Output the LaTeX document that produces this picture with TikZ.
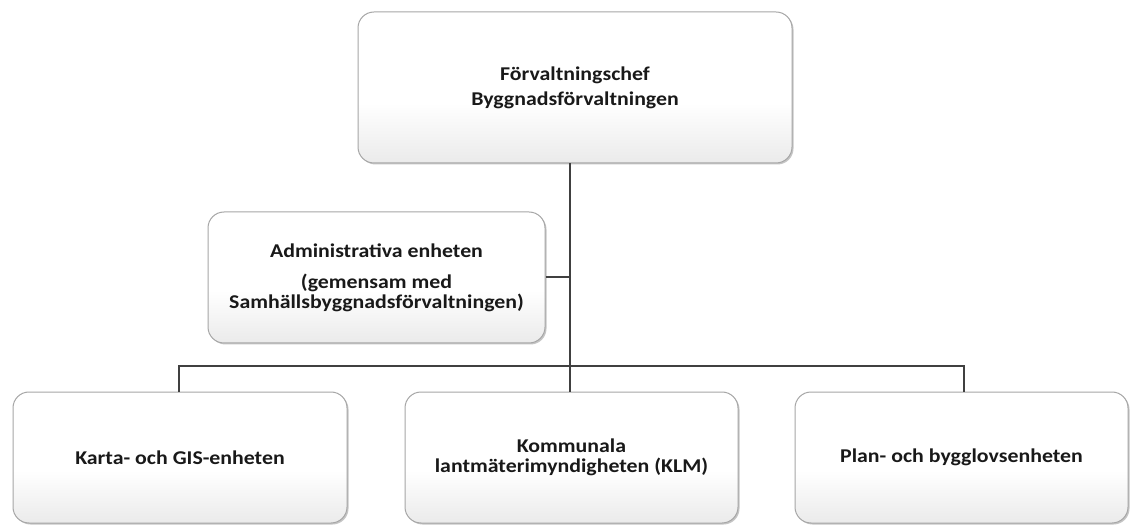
\documentclass[tikz,border=0pt]{standalone}
\usepackage{fontspec}
\setmainfont{Carlito}[FakeStretch=1.12]
\usetikzlibrary{shadows}
\pgfdeclareverticalshading{boxshade}{100bp}{color(0bp)=(black!22); color(25bp)=(black!8); color(45bp)=(white); color(100bp)=(white)}
\tikzset{
  unit/.style={draw=black!35, line width=1pt, rounded corners=16pt, shading=boxshade,
    drop shadow={shadow xshift=1.5pt, shadow yshift=-1.5pt, fill=black!45, opacity=0.5},
    align=center, font=\bfseries\fontsize{19.5}{20}\selectfont, inner sep=0pt, text=black!90},
  conn/.style={draw=black!75, line width=2pt}
}
\begin{document}
\begin{tikzpicture}[x=1pt,y=-1pt]
\useasboundingbox[fill=white] (0,0) rectangle (1132,526);
\node[unit, minimum width=434pt, minimum height=151pt] (top) at (575,87.5)
  {Förvaltningschef\\[5pt]Byggnadsförvaltningen};
\node[unit, minimum width=337pt, minimum height=131pt] (adm) at (376.5,277.5)
  {Administrativa enheten\\[11pt](gemensam med\\Samhällsbyggnadsförvaltningen)};
\node[unit, minimum width=334pt, minimum height=131pt] (karta) at (180,457.5)
  {Karta- och GIS-enheten};
\node[unit, minimum width=333pt, minimum height=131pt] (klm) at (571.5,457.5)
  {Kommunala\\lantmäterimyndigheten (KLM)};
\node[unit, minimum width=333pt, minimum height=131pt] (plan) at (961.5,457.5)
  {Plan- och bygglovsenheten};
\coordinate (bus) at (570,366);
\coordinate (admj) at (570,277.5);
\draw[conn] (top.south -| bus) -- (klm.north -| bus);
\draw[conn] (adm.east) -- (admj);
\draw[conn] (karta.north -| 179,0) |- (bus) -| (plan.north -| 964,0);
\end{tikzpicture}
\end{document}
